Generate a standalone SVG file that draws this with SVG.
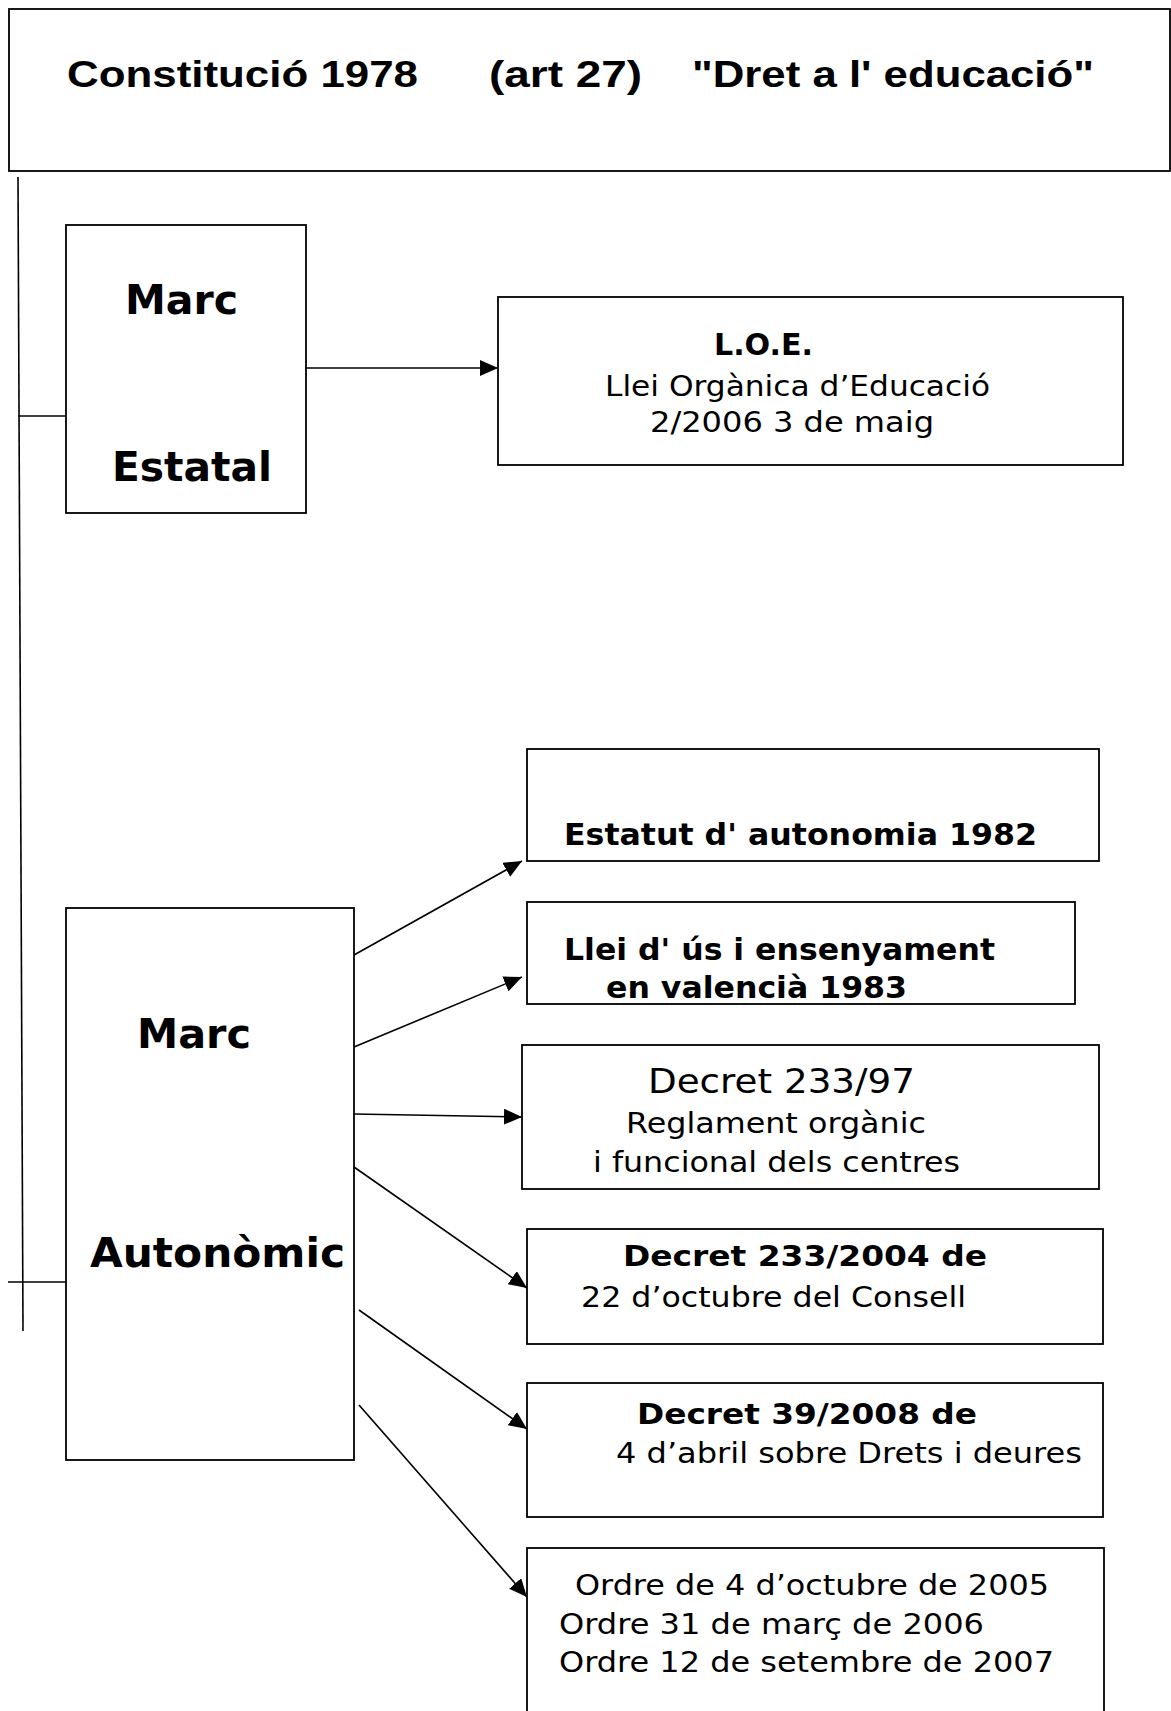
<svg xmlns="http://www.w3.org/2000/svg" width="1171" height="1711" viewBox="0 0 1171 1711">
<style>
.box{fill:#fff;stroke:#000;stroke-width:1.8}
.ln{fill:none;stroke:#000;stroke-width:1.6}
.t{font-family:"Liberation Sans",Arial,sans-serif;font-weight:bold;font-size:37px;fill:#000}
.b40{font-family:"DejaVu Sans",Verdana,sans-serif;font-weight:bold;font-size:40px;fill:#000}
.b30{font-family:"DejaVu Sans",Verdana,sans-serif;font-weight:bold;font-size:30px;fill:#000}
.b29{font-family:"DejaVu Sans",Verdana,sans-serif;font-weight:bold;font-size:28px;fill:#000}
.r28{font-family:"DejaVu Sans",Verdana,sans-serif;font-size:28px;fill:#000}
.r33{font-family:"DejaVu Sans",Verdana,sans-serif;font-size:33px;fill:#000}
</style>
<defs>
<marker id="ah" markerWidth="18" markerHeight="16" refX="18" refY="8" orient="auto" markerUnits="userSpaceOnUse">
<path d="M0,0 L18,8 L0,16 z" fill="#000"/>
</marker>
</defs>
<rect width="1171" height="1711" fill="#fff"/>

<g id="connectors">
<line class="ln" x1="18" y1="177" x2="23" y2="1331"/>
<line class="ln" x1="18" y1="416" x2="66" y2="416"/>
<line class="ln" x1="8" y1="1282" x2="66" y2="1282"/>
<line class="ln" x1="306" y1="368" x2="498" y2="368" marker-end="url(#ah)"/>
<line class="ln" x1="354" y1="955" x2="522" y2="861" marker-end="url(#ah)"/>
<line class="ln" x1="354" y1="1047" x2="522" y2="977" marker-end="url(#ah)"/>
<line class="ln" x1="354" y1="1114" x2="522" y2="1117" marker-end="url(#ah)"/>
<line class="ln" x1="354" y1="1167" x2="527" y2="1288" marker-end="url(#ah)"/>
<line class="ln" x1="359" y1="1310" x2="527" y2="1429" marker-end="url(#ah)"/>
<line class="ln" x1="359" y1="1405" x2="527" y2="1597" marker-end="url(#ah)"/>
</g>

<g id="constitucio">
<rect class="box" x="9" y="9" width="1161" height="162"/>
<text class="t" y="87"><tspan x="67" textLength="351" lengthAdjust="spacingAndGlyphs">Constitució 1978</tspan><tspan x="489" textLength="153" lengthAdjust="spacingAndGlyphs">(art 27)</tspan><tspan x="692" textLength="402" lengthAdjust="spacingAndGlyphs">"Dret a l' educació"</tspan></text>
</g>

<g id="marc-estatal">
<rect class="box" x="66" y="225" width="240" height="288"/>
<text class="b40" x="125" y="314" textLength="113" lengthAdjust="spacingAndGlyphs">Marc</text>
<text class="b40" x="112" y="481" textLength="160" lengthAdjust="spacingAndGlyphs">Estatal</text>
</g>

<g id="loe">
<rect class="box" x="498" y="297" width="625" height="168"/>
<text class="b30" x="714" y="355" textLength="99" lengthAdjust="spacingAndGlyphs">L.O.E.</text>
<text class="r28" x="605" y="396" textLength="385" lengthAdjust="spacingAndGlyphs">Llei Orgànica d’Educació</text>
<text class="r28" x="650" y="432" textLength="284" lengthAdjust="spacingAndGlyphs">2/2006 3 de maig</text>
</g>

<g id="marc-autonomic">
<rect class="box" x="66" y="908" width="288" height="552"/>
<text class="b40" x="137" y="1048" textLength="114" lengthAdjust="spacingAndGlyphs">Marc</text>
<text class="b40" x="90" y="1267" textLength="255" lengthAdjust="spacingAndGlyphs">Autonòmic</text>
</g>

<g id="estatut">
<rect class="box" x="527" y="749" width="572" height="112"/>
<text class="b30" x="564" y="845" textLength="473" lengthAdjust="spacingAndGlyphs">Estatut d' autonomia 1982</text>
</g>

<g id="llei-us">
<rect class="box" x="527" y="902" width="548" height="102"/>
<text class="b30" x="564" y="960" textLength="431" lengthAdjust="spacingAndGlyphs">Llei d' ús i ensenyament</text>
<text class="b30" x="606" y="998" textLength="301" lengthAdjust="spacingAndGlyphs">en valencià 1983</text>
</g>

<g id="decret-233-97">
<rect class="box" x="522" y="1045" width="577" height="144"/>
<text class="r33" x="648" y="1093" textLength="267" lengthAdjust="spacingAndGlyphs">Decret 233/97</text>
<text class="r28" x="626" y="1133" textLength="300" lengthAdjust="spacingAndGlyphs">Reglament orgànic</text>
<text class="r28" x="593" y="1172" textLength="367" lengthAdjust="spacingAndGlyphs">i funcional dels centres</text>
</g>

<g id="decret-233-2004">
<rect class="box" x="527" y="1229" width="576" height="115"/>
<text class="b29" x="623" y="1266" textLength="364" lengthAdjust="spacingAndGlyphs">Decret 233/2004 de</text>
<text class="r28" x="581" y="1307" textLength="385" lengthAdjust="spacingAndGlyphs">22 d’octubre del Consell</text>
</g>

<g id="decret-39-2008">
<rect class="box" x="527" y="1383" width="576" height="134"/>
<text class="b29" x="637" y="1424" textLength="340" lengthAdjust="spacingAndGlyphs">Decret 39/2008 de</text>
<text class="r28" x="616" y="1463" textLength="466" lengthAdjust="spacingAndGlyphs">4 d’abril sobre Drets i deures</text>
</g>

<g id="ordres">
<rect class="box" x="527" y="1548" width="577" height="180"/>
<text class="r28" x="575" y="1595" textLength="474" lengthAdjust="spacingAndGlyphs">Ordre de 4 d’octubre de 2005</text>
<text class="r28" x="559" y="1634" textLength="425" lengthAdjust="spacingAndGlyphs">Ordre 31 de març de 2006</text>
<text class="r28" x="559" y="1672" textLength="495" lengthAdjust="spacingAndGlyphs">Ordre 12 de setembre de 2007</text>
</g>
</svg>
